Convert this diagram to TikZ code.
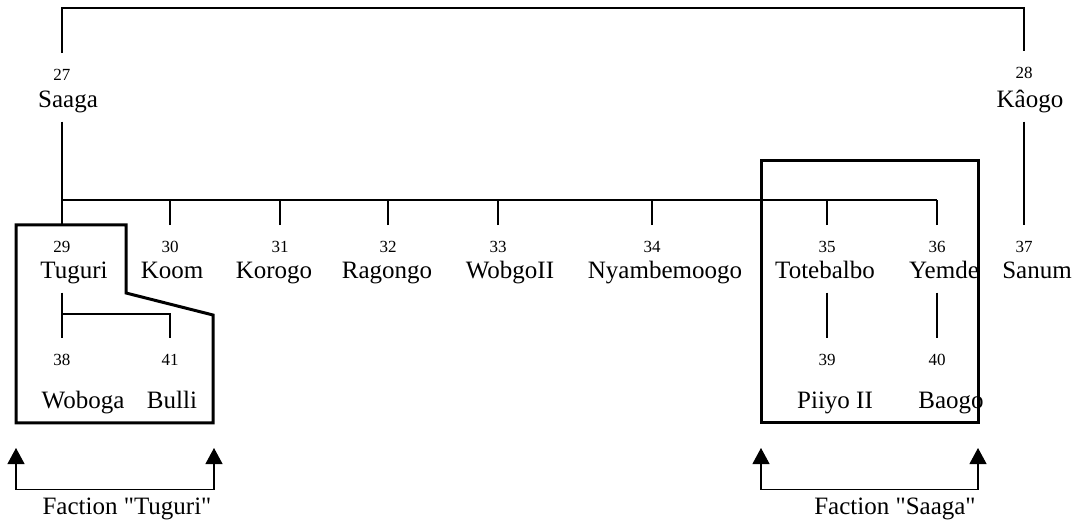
\documentclass[tikz,border=0pt]{standalone}
\usepackage{fontspec}
\setmainfont{Liberation Serif}[Ligatures=TeXOff]
\usetikzlibrary{arrows.meta}

\begin{document}
\begin{tikzpicture}[
        x=0.5pt, y=-0.5pt,
        idx/.style={font=\fontsize{8.5}{9}\selectfont, inner xsep=1pt, inner ysep=8pt, text height=5.5pt, text depth=0pt},
        chief/.style={font=\fontsize{12.5}{14}\selectfont, inner xsep=1pt, inner ysep=4pt, text height=8.5pt, text depth=2.7pt},
        link/.style={line width=0.55pt},
        faction/.style={line width=1.5pt},
        bracket/.style={line width=0.55pt, {Triangle[length=8pt,width=8.5pt]}-{Triangle[length=8pt,width=8.5pt]}}
    ]
    \useasboundingbox (0,0) rectangle (1076,523);
    \coordinate (top) at (0,8);    % top bracket
    \coordinate (bar) at (0,200);  % bar of Saaga's sons
    \coordinate (sub) at (0,314);  % bar of Tuguri's sons

    % the two founders
    \node[idx] (n27) at (62,75) {27};
    \node[chief] (p27) at (68,102) {Saaga};
    \node[idx] (n28) at (1024,73) {28};
    \node[chief] (p28) at (1030,102) {Kâogo};
    \draw[link] (n27.north) -- (n27.north |- top) -| (n28.north);

    % sons of Saaga
    \foreach \x/\nx/\i/\who in {62/74/29/Tuguri, 170/172/30/Koom, 280/274/31/Korogo,
        388/387/32/Ragongo, 498/510/33/WobgoII, 652/665/34/Nyambemoogo,
        827/825/35/Totebalbo, 937/944/36/Yemde} {
        \node[idx] (n\i) at (\x,247) {\i};
        \node[chief] (p\i) at (\nx,273) {\who};
        \draw[link] (n\i.north) -- (n\i.north |- bar);
    }
    \draw[link] (n27 |- p27.south) -- (n27 |- bar) -- (n36 |- bar);

    % son of Kâogo
    \node[idx] (n37) at (1024,247) {37};
    \node[chief] (p37) at (1037,273) {Sanum};
    \draw[link] (n28 |- p28.south) -- (n37.north);

    % grandsons
    \node[idx] (n38) at (62,360) {38};
    \node[chief] (p38) at (83,403) {Woboga};
    \node[idx] (n41) at (170,360) {41};
    \node[chief] (p41) at (172,403) {Bulli};
    \node[idx] (n39) at (827,360) {39};
    \node[chief] (p39) at (835,403) {Piiyo II};
    \node[idx] (n40) at (937,360) {40};
    \node[chief] (p40) at (951,403) {Baogo};
    \draw[link] (n29 |- p29.south) -- (n38.north);
    \draw[link] (n29 |- sub) -| (n41.north);
    \draw[link] (n35 |- p35.south) -- (n39.north);
    \draw[link] (n36 |- p36.south) -- (n40.north);

    % the two factions
    \draw[faction] (16,225) -- (126,225) -- (126,293) -- (213,315) -- (213,423) -- (16,423) -- cycle;
    \draw[faction] (761,161) rectangle (978,423);

    \node[chief] (f1) at (127,509) {Faction "Tuguri"};
    \node[chief] (f2) at (895,509) {Faction "Saaga"};
    \coordinate (t1) at (16,448);
    \coordinate (t2) at (214,448);
    \coordinate (s1) at (761,448);
    \coordinate (s2) at (978,448);
    \draw[bracket] (t1) -- (t1 |- f1.north) -- (t2 |- f1.north) -- (t2);
    \draw[bracket] (s1) -- (s1 |- f2.north) -- (s2 |- f2.north) -- (s2);
\end{tikzpicture}
\end{document}
